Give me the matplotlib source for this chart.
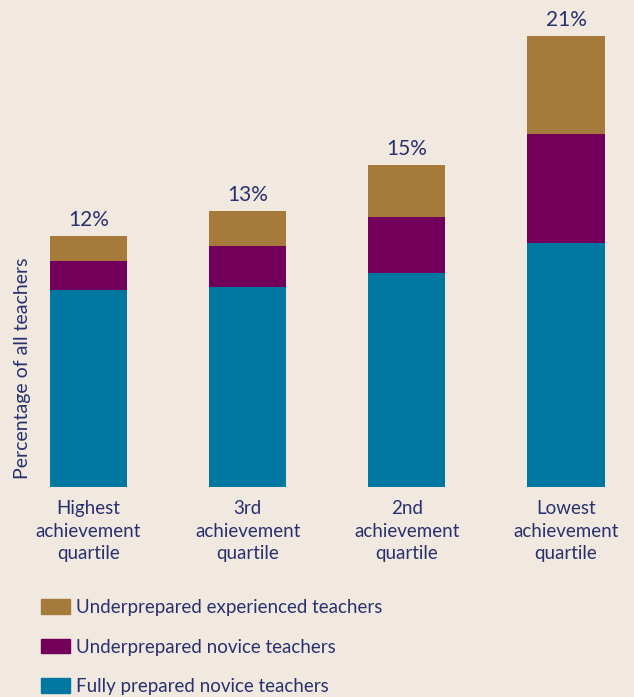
import matplotlib.pyplot as plt
from matplotlib.patches import Patch

plt.rcParams['font.family'] = ['Lato', 'DejaVu Sans']

# data (percent of all teachers)
categories = ['Highest\nachievement\nquartile', '3rd\nachievement\nquartile',
              '2nd\nachievement\nquartile', 'Lowest\nachievement\nquartile']
fully_prepared_novice = [9.21, 9.35, 10.0, 11.40]
underprepared_novice = [1.35, 1.91, 2.61, 5.08]
underprepared_experienced = [1.17, 1.63, 2.42, 4.57]
total_labels = ['12%', '13%', '15%', '21%']

bg = '#f1e8df'
text_col = '#28316f'
c_teal = '#0077a1'
c_purple = '#72005a'
c_brown = '#a67a3b'

fig = plt.figure(figsize=(6.34, 6.97), dpi=100, facecolor=bg)
ax = fig.add_axes([0, 0.3006, 1, 0.6994])
ax.set_facecolor(bg)

x = range(len(categories))
w = 0.485
ax.bar(x, fully_prepared_novice, w, color=c_teal)
ax.bar(x, underprepared_novice, w, bottom=fully_prepared_novice, color=c_purple)
bottom3 = [a + b for a, b in zip(fully_prepared_novice, underprepared_novice)]
ax.bar(x, underprepared_experienced, w, bottom=bottom3, color=c_brown)

tops = [a + b for a, b in zip(bottom3, underprepared_experienced)]
for i, lab in enumerate(total_labels):
    ax.text(i, tops[i] + 0.28, lab, ha='center', va='bottom',
            fontsize=15, color=text_col)

ax.set_xlim(-0.556, 3.427)
ax.set_ylim(0, 22.73)
ax.axis('off')

# category labels under bars
for i, lab in enumerate(categories):
    ax.text(i, -0.6, lab, ha='center', va='top', fontsize=13.5,
            color=text_col, linespacing=1.38, clip_on=False)

fig.text(23 / 634, 1 - 368 / 697, 'Percentage of all teachers', rotation=90,
         ha='center', va='center', fontsize=14, color=text_col)

handles = [Patch(color=c_brown), Patch(color=c_purple), Patch(color=c_teal)]
labels = ['Underprepared experienced teachers', 'Underprepared novice teachers',
          'Fully prepared novice teachers']
leg = fig.legend(handles, labels, loc='upper left',
                 bbox_to_anchor=(41 / 634, 1 - 599 / 697), frameon=False,
                 fontsize=13.5, handlelength=1.55, handleheight=0.85,
                 handletextpad=0.33, labelspacing=1.2, borderaxespad=0,
                 borderpad=0)
for t in leg.get_texts():
    t.set_color(text_col)

fig.savefig('out.png', dpi=100, facecolor=bg)
